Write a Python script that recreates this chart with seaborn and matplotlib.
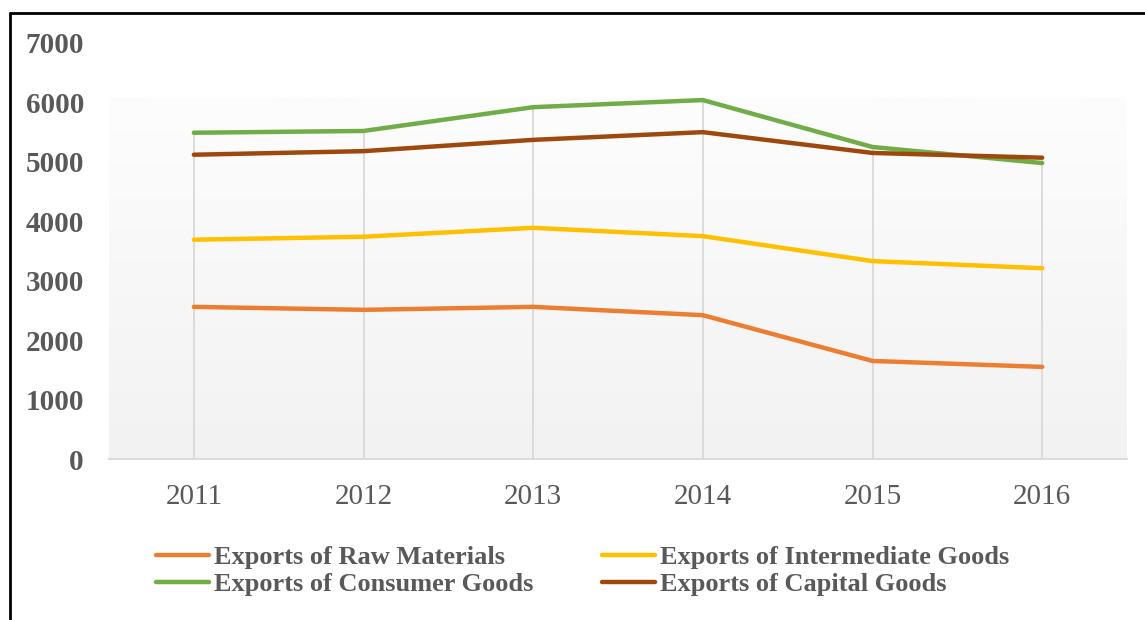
import numpy as np
import pandas as pd
import matplotlib
matplotlib.use("Agg")
import matplotlib.pyplot as plt
import seaborn as sns
from matplotlib.lines import Line2D

years = ["2011", "2012", "2013", "2014", "2015", "2016"]
raw_materials = [2560, 2510, 2560, 2420, 1650, 1550]
intermediate_goods = [3690, 3740, 3890, 3750, 3330, 3210]
consumer_goods = [5490, 5520, 5920, 6040, 5250, 4980]
capital_goods = [5120, 5180, 5370, 5500, 5150, 5070]

series_names = [
    "Exports of Raw Materials",
    "Exports of Intermediate Goods",
    "Exports of Consumer Goods",
    "Exports of Capital Goods",
]
series_values = [raw_materials, intermediate_goods, consumer_goods, capital_goods]
colors = ["#ED7D31", "#FFC000", "#70AD47", "#9E480E"]

rows = []
for name, vals in zip(series_names, series_values):
    for yr, v in zip(years, vals):
        rows.append({"Year": yr, "Value": v, "Series": name})
df = pd.DataFrame(rows)

sns.set_style("white")
plt.rcParams["font.family"] = ["Liberation Serif", "DejaVu Serif"]
text_color = "#595959"

fig = plt.figure(figsize=(11.45, 6.2), dpi=100)
ax = fig.add_axes([109 / 1145, (620 - 459) / 620, (1127 - 109) / 1145, (459 - 43) / 620])

# gradient plot-area fill
grad = np.linspace(0, 1, 256).reshape(-1, 1)
ax.imshow(grad, extent=[0, 1, 0, 0.87], transform=ax.transAxes, aspect="auto",
          cmap=matplotlib.colors.LinearSegmentedColormap.from_list("g", ["#f2f2f2", "#fdfdfd"]),
          origin="lower", zorder=0)

# drop lines from the highest point of each year to the axis
tops = df.groupby("Year", sort=False)["Value"].max()
ax.vlines(range(len(years)), 0, tops.values, color="#d9d9d9", lw=1.3, zorder=1)

sns.lineplot(data=df, x="Year", y="Value", hue="Series", hue_order=series_names,
             palette=colors, linewidth=3.2, ax=ax, legend=False, zorder=3)

ax.set_xlim(-0.5, 5.5)
ax.set_ylim(0, 7000)
ax.set_yticks(range(0, 7001, 1000))
ax.set_xlabel("")
ax.set_ylabel("")
for s in ["top", "right", "left"]:
    ax.spines[s].set_visible(False)
ax.spines["bottom"].set_color("#d9d9d9")
ax.spines["bottom"].set_linewidth(1.3)
ax.tick_params(axis="both", length=0, colors=text_color)
ax.tick_params(axis="y", pad=18, labelsize=21)
ax.tick_params(axis="x", pad=18, labelsize=21)
for lab in ax.get_yticklabels():
    lab.set_fontweight("bold")
ax.set_facecolor("white")

order = [0, 2, 1, 3]
handles = [Line2D([0], [0], color=colors[i], lw=3.2) for i in order]
labels = [series_names[i] for i in order]
leg = fig.legend(handles, labels, ncol=2, loc="upper left",
                 bbox_to_anchor=(132 / 1145, 1 - 522 / 620), frameon=False,
                 prop={"family": "Liberation Serif", "weight": "bold", "size": 19},
                 handlelength=2.0, handletextpad=0.2, columnspacing=2.6,
                 labelspacing=0.12, labelcolor=text_color)

# outer border (left and top)
fig.add_artist(Line2D([10 / 1145, 10 / 1145], [0, 1 - 13 / 620], color="black", lw=2,
                      transform=fig.transFigure))
fig.add_artist(Line2D([10 / 1145, 1], [1 - 13 / 620, 1 - 13 / 620], color="black", lw=2,
                      transform=fig.transFigure))

fig.savefig("out.png", dpi=100)
